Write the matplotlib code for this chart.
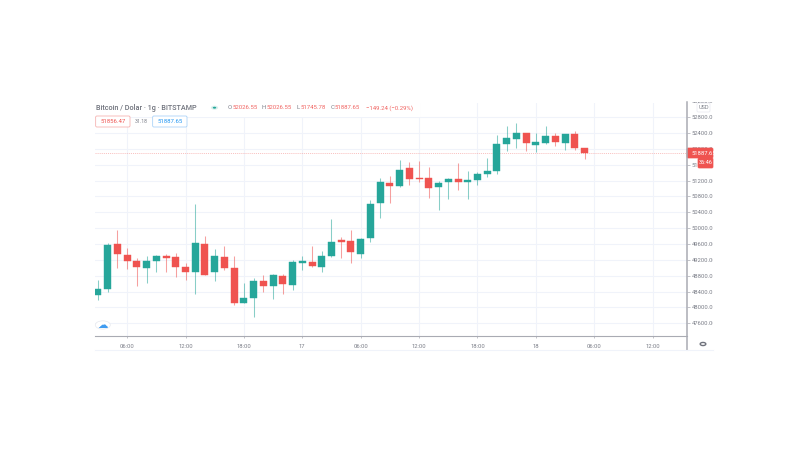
import matplotlib
matplotlib.use('Agg')
import matplotlib.pyplot as plt
from matplotlib.patches import Rectangle, FancyBboxPatch, Circle
from matplotlib.transforms import Bbox

plt.rcParams['font.family'] = ['Roboto', 'DejaVu Sans']

# hourly candles, first one is 03:00
opens = [48321, 48465, 49592, 49330, 49171, 49002, 49171, 49297, 49272, 49012,
         48886, 49607, 48901, 49280, 49002, 48104, 48238, 48674, 48548, 48793,
         48573, 49121, 49146, 49012, 49290, 49693, 49668, 49340, 49751, 50626,
         51146, 51070, 51509, 51272, 51272, 51030, 51156, 51247, 51164, 51222,
         51358, 51441, 52122, 52248, 52407, 52104, 52140, 52316, 52147, 52367,
         52026.55]
highs = [48692, 49618, 49953, 49492, 49239, 49297, 49330, 49348, 49373, 49113,
         50616, 49809, 49466, 49549, 49297, 48624, 48735, 48818, 48843, 48843,
         49196, 49297, 49549, 49416, 50238, 49784, 49961, 49751, 50710, 51257,
         51315, 51718, 51660, 51701, 51542, 51196, 51272, 51650, 51449, 51423,
         51761, 52349, 52576, 52644, 52407, 52407, 52568, 52392, 52374, 52450,
         52026.55]
lows = [48188, 48397, 49002, 48977, 48541, 48616, 48886, 48894, 48760, 48684,
        48346, 48826, 48674, 48944, 48069, 48104, 47751, 48397, 48213, 48346,
        48440, 48944, 49027, 48894, 49280, 49247, 49128, 49254, 49658, 50263,
        50626, 51045, 51088, 51171, 50768, 50465, 50727, 50969, 50727, 51088,
        51290, 51365, 51945, 52014, 51953, 51928, 52129, 52079, 51978, 51978,
        51745.78]
closes = [48465, 49575, 49355, 49171, 49027, 49171, 49297, 49254, 49027, 48901,
          49618, 48826, 49305, 49002, 48104, 48246, 48674, 48548, 48818, 48591,
          49138, 49171, 49045, 49290, 49658, 49658, 49391, 49718, 50616, 51171,
          51070, 51474, 51247, 51247, 51020, 51146, 51247, 51156, 51214, 51358,
          51441, 52129, 52266, 52407, 52147, 52180, 52324, 52165, 52374, 52029,
          51887.65]

price_ticks = [47600, 48000, 48400, 48800, 49200, 49600, 50000, 50400, 50800, 51200,
               51600, 52000, 52400, 52800, 53200]
time_ticks = [3, 9, 15, 21, 27, 33, 39, 45, 51, 57]
time_labels = ['06:00', '12:00', '18:00', '17', '06:00', '12:00', '18:00', '18', '06:00', '12:00']

last_price = 51887.65

green = '#26a69a'
red = '#ef5350'
grid_col = '#f0f3fa'
axis_col = '#a9abb3'
text_col = '#7b7e88'


def px(x, y):
    return x / 810, 1 - y / 450


fig = plt.figure(figsize=(8.1, 4.5), dpi=100)
ax = fig.add_axes([95 / 810, 1 - 336 / 450, (687 - 95) / 810, (336 - 103) / 450])
ax.set_xlim(-0.3, 60.53)
ax.set_ylim(47280, 53156)

ax.set_axisbelow(True)
ax.grid(True, color=grid_col, lw=0.8)
ax.set_xticks(time_ticks)
ax.set_xticklabels(time_labels, fontsize=4.2, color=text_col)
ax.set_yticks(price_ticks[:-1])
ax.set_yticklabels(['%.2f' % p for p in price_ticks[:-1]], fontsize=4.2, color=text_col)
ax.yaxis.tick_right()
ax.tick_params(axis='x', length=1.5, width=0.5, color=axis_col, pad=4.5)
ax.tick_params(axis='y', length=2, width=0.5, color=axis_col, pad=1.5)
for s in ['top', 'left']:
    ax.spines[s].set_visible(False)
ax.spines['bottom'].set_color(axis_col)
ax.spines['bottom'].set_linewidth(0.8)
ax.spines['right'].set_visible(False)

# legend block hides the grid at the top left
ax.add_patch(Rectangle(px(95, 116.5), 325 / 810, 13.5 / 450, transform=fig.transFigure,
                       fc='white', ec='none', zorder=1.5))

for i in range(len(opens)):
    col = green if closes[i] >= opens[i] else red
    ax.vlines(i, lows[i], highs[i], color=col, lw=0.75, alpha=0.55, zorder=2)
    ax.bar(i, abs(closes[i] - opens[i]), bottom=min(opens[i], closes[i]), width=0.72,
           color=col, edgecolor=col, lw=0.3, zorder=3)

ax.axhline(last_price, color=red, lw=0.5, ls=(0, (1.5, 1.5)), alpha=0.5, zorder=2.5)

# price axis strip
fig.add_artist(plt.Line2D([687 / 810, 687 / 810], [1 - 102 / 450, 1 - 350 / 450], color=axis_col, lw=1.1))
fig.add_artist(plt.Line2D([95 / 810, 687 / 810], [1 - 350 / 450, 1 - 350 / 450], color=grid_col, lw=0.8))
fig.add_artist(plt.Line2D([687 / 810, 713 / 810], [1 - 350 / 450, 1 - 350 / 450], color=grid_col, lw=0.8))

# the labels are cut off at the right edge of the strip
clip = Bbox([[687, 450 - 350], [712.5, 450 - 102]])
for lab in ax.get_yticklabels():
    lab.set_clip_on(True)
    lab.set_clip_box(clip)
top = fig.text(*px(691.5, 101.3), '%.2f' % price_ticks[-1], fontsize=4.2, color=text_col, va='center')
top.set_clip_on(True)
top.set_clip_box(clip)

# header
fig.text(*px(96, 107.5), 'Bitcoin / Dolar · 1g · BITSTAMP', fontsize=5.2, color='#6f727c',
         fontweight='medium', va='center')
fig.add_artist(Circle(px(214.5, 107.7), 3.6 / 810, fc='#d9f0ed', ec='none', transform=fig.transFigure))
fig.add_artist(Circle(px(214.5, 107.7), 1.7 / 810, fc=green, ec='none', transform=fig.transFigure))
for lx, letter, vx, val in [(227.5, 'O', 232.5, '52026.55'), (262, 'H', 266.5, '52026.55'),
                            (296.5, 'L', 300.5, '51745.78'), (330.5, 'C', 335, '51887.65')]:
    fig.text(*px(lx, 107.7), letter, fontsize=4.3, color=text_col, va='center')
    fig.text(*px(vx, 107.7), val, fontsize=4.3, color=red, alpha=0.9, va='center')
fig.text(*px(365.5, 107.7), '\u2212149.24 (\u22120.29%)', fontsize=4.3, color=red, alpha=0.9, va='center')


def badge(x0, x1, y0, y1, fc, ec):
    x, y = px(x0, y1)
    w = (x1 - x0) / 810
    h = (y1 - y0) / 450
    fig.add_artist(FancyBboxPatch((x * 810, y * 450), w * 810, h * 450,
                                  boxstyle='round,pad=0,rounding_size=1.2',
                                  transform=fig.dpi_scale_trans + matplotlib.transforms.Affine2D().scale(1, 1)
                                  if False else matplotlib.transforms.Affine2D().scale(1 / 810, 1 / 450) + fig.transFigure,
                                  fc=fc, ec=ec, lw=0.5))


badge(95.7, 130, 116, 127, 'white', '#f4a5a3')
fig.text(*px(112.8, 121.7), '51856.47', fontsize=4.3, color=red, ha='center', va='center')
fig.text(*px(141, 121.3), '31.18', fontsize=3.8, color=text_col, ha='center', va='center')
badge(152.7, 187, 116, 127, 'white', '#9ccbf7')
fig.text(*px(170, 121.7), '51887.65', fontsize=4.3, color='#2196f3', ha='center', va='center')

# last price tags
badge(687, 713, 148, 158, red, red)
fig.text(*px(691.5, 153.2), '%.2f' % last_price, fontsize=4.2, color='white', va='center')
badge(698, 713, 158, 168, red, red)
fig.text(*px(705.5, 163), '36:46', fontsize=4, color='white', ha='center', va='center')

# currency box
badge(697, 710, 103, 112, 'white', '#e6e8ee')
fig.text(*px(703.5, 107.5), 'USD', fontsize=4, color=text_col, ha='center', va='center')

# cloud button and settings gear
fig.add_artist(Circle(px(102.8, 325), 7.5 / 810, fc='white', ec='#e6e8ee', lw=0.5, transform=fig.transFigure))
fig.text(*px(102.8, 325), '\u2601', family='DejaVu Sans', fontsize=7.5, color='#3f9bf0', ha='center', va='center')
fig.add_artist(Circle(px(703, 344), 2.8 / 810, fc='white', ec='#6f727c', lw=1.0, transform=fig.transFigure))

fig.savefig('out.png', dpi=100)
